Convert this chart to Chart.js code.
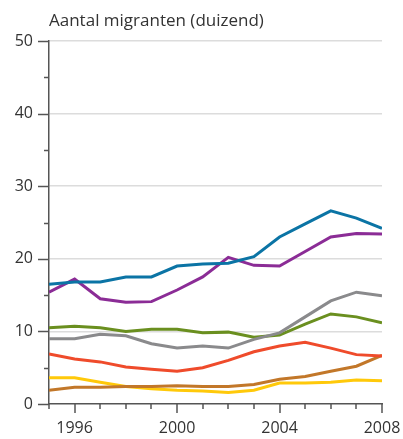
<!DOCTYPE html>
<html>
<head>
<meta charset="utf-8">
<script src="https://cdn.jsdelivr.net/npm/chart.js@4"></script>
<style>
  html, body { margin: 0; padding: 0; background: #fff; }
  #wrap { position: relative; width: 403px; height: 439px; }
  #title {
    position: absolute; left: 49px; top: 8px;
    font-family: "Open Sans", sans-serif; font-size: 17px; color: #333;
  }
</style>
</head>
<body>
<div id="wrap">
  <div id="title">Aantal migranten (duizend)</div>
  <canvas id="migrantChart" width="403" height="439"></canvas>
</div>
<script>
// years on the x axis
const years = [1995, 1996, 1997, 1998, 1999, 2000, 2001, 2002, 2003, 2004, 2005, 2006, 2007, 2008];
const yearLabels = [1996, 2000, 2004, 2008];

// series values (thousands)
const blueSeries   = [16.5, 16.8, 16.8, 17.5, 17.5, 19.0, 19.3, 19.4, 20.3, 23.0, 24.8, 26.6, 25.6, 24.2];
const purpleSeries = [15.4, 17.2, 14.5, 14.0, 14.1, 15.7, 17.5, 20.2, 19.1, 19.0, 21.0, 23.0, 23.5, 23.4];
const greenSeries  = [10.5, 10.7, 10.5, 10.0, 10.3, 10.3, 9.8, 9.9, 9.2, 9.5, 11.0, 12.4, 12.0, 11.2];
const greySeries   = [9.0, 9.0, 9.6, 9.4, 8.3, 7.7, 8.0, 7.7, 8.9, 9.8, 12.0, 14.2, 15.4, 14.9];
const redSeries    = [6.9, 6.2, 5.8, 5.1, 4.8, 4.5, 5.0, 6.0, 7.2, 8.0, 8.5, 7.7, 6.8, 6.6];
const yellowSeries = [3.6, 3.6, 3.0, 2.4, 2.1, 1.9, 1.8, 1.6, 1.9, 2.9, 2.9, 3.0, 3.3, 3.2];
const brownSeries  = [1.9, 2.3, 2.3, 2.4, 2.4, 2.5, 2.4, 2.4, 2.7, 3.4, 3.8, 4.5, 5.2, 6.7];

function makeSet(values, color) {
    return {
        data: years.map((y, i) => ({ x: y, y: values[i] })),
        borderColor: color,
        borderWidth: 3,
        pointRadius: 0,
        tension: 0,
        fill: false
    };
}

// draws the outside tick marks (long at labels, short otherwise)
const tickMarks = {
    id: 'tickMarks',
    afterDraw(chart) {
        const ctx = chart.ctx;
        const xs = chart.scales.x;
        const ys = chart.scales.y;
        const area = chart.chartArea;
        ctx.save();
        ctx.strokeStyle = '#555';
        ctx.lineWidth = 1.5;
        for (let v = 0; v <= 50; v += 5) {
            const py = Math.round(ys.getPixelForValue(v)) + 0.5;
            const len = v % 10 === 0 ? 11 : 5;
            ctx.beginPath();
            ctx.moveTo(area.left - len, py);
            ctx.lineTo(area.left, py);
            ctx.stroke();
        }
        years.forEach(yr => {
            const px = Math.round(xs.getPixelForValue(yr));
            const len = yearLabels.includes(yr) ? 9 : 5;
            ctx.beginPath();
            ctx.moveTo(px, area.bottom);
            ctx.lineTo(px, area.bottom + len);
            ctx.stroke();
        });
        ctx.restore();
    }
};

const ctx = document.getElementById('migrantChart').getContext('2d');
new Chart(ctx, {
    type: 'line',
    data: {
        datasets: [
            makeSet(blueSeries, '#0b74a5'),
            makeSet(purpleSeries, '#8b2c96'),
            makeSet(greySeries, '#8a8a8c'),
            makeSet(greenSeries, '#6a8f1f'),
            makeSet(redSeries, '#ef4b2b'),
            makeSet(brownSeries, '#c27729'),
            makeSet(yellowSeries, '#ffc90a')
        ]
    },
    options: {
        responsive: false,
        animation: false,
        layout: { padding: { top: 41, right: 21, left: 0, bottom: 0 } },
        plugins: {
            legend: { display: false },
            tooltip: { enabled: false }
        },
        scales: {
            x: {
                type: 'linear',
                min: 1995,
                max: 2008,
                afterFit: scale => {
                    scale.height = 35;
                    scale.paddingLeft = 0;
                    scale.paddingRight = 0;
                },
                afterBuildTicks: scale => {
                    scale.ticks = years.map(v => ({ value: v }));
                },
                ticks: {
                    autoSkip: false,
                    maxRotation: 0,
                    padding: 15,
                    color: '#333',
                    font: { family: 'Open Sans', size: 16 },
                    callback: v => yearLabels.includes(v) ? String(v) : ''
                },
                grid: { display: false, drawTicks: false },
                border: { display: true, color: '#555', width: 1.5 }
            },
            y: {
                min: 0,
                max: 50,
                afterFit: scale => { scale.width = 49; },
                ticks: {
                    stepSize: 5,
                    padding: 16,
                    color: '#333',
                    font: { family: 'Open Sans', size: 16 },
                    callback: v => v % 10 === 0 ? String(v) : ''
                },
                grid: {
                    drawTicks: false,
                    lineWidth: 1.5,
                    color: c => (c.tick && c.tick.value % 10 === 0 && c.tick.value > 0) ? '#dcdcdc' : 'transparent'
                },
                border: { display: true, color: '#555', width: 1.5 }
            }
        }
    },
    plugins: [tickMarks]
});
</script>
</body>
</html>
